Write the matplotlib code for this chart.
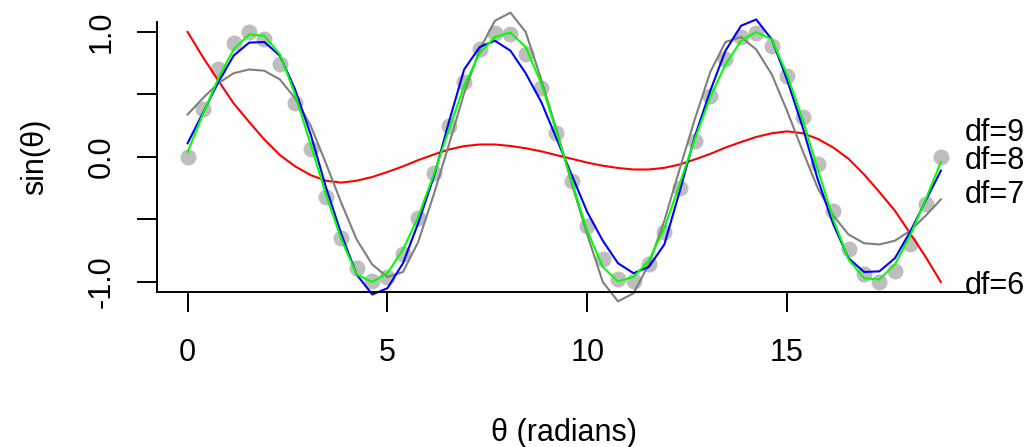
import matplotlib
matplotlib.use("Agg")
import matplotlib.pyplot as plt

plt.rcParams['font.family'] = ['Liberation Sans', 'DejaVu Sans']

# sample points (theta in radians) and sin values
theta = [0.00, 0.38, 0.77, 1.15, 1.54, 1.92, 2.31, 2.69, 3.08, 3.46,
         3.85, 4.23, 4.62, 5.00, 5.39, 5.77, 6.16, 6.54, 6.92, 7.31,
         7.69, 8.08, 8.46, 8.85, 9.23, 9.62, 10.00, 10.39, 10.77, 11.16,
         11.54, 11.93, 12.31, 12.69, 13.08, 13.46, 13.85, 14.23, 14.62, 15.00,
         15.39, 15.77, 16.16, 16.54, 16.93, 17.31, 17.70, 18.08, 18.47, 18.85]
sin_vals = [0.00, 0.38, 0.70, 0.91, 1.00, 0.94, 0.74, 0.43, 0.06, -0.32,
            -0.65, -0.89, -0.99, -0.96, -0.78, -0.49, -0.13, 0.25, 0.60, 0.86,
            0.99, 0.98, 0.82, 0.55, 0.19, -0.19, -0.55, -0.82, -0.98, -0.99,
            -0.86, -0.60, -0.25, 0.13, 0.49, 0.78, 0.96, 0.99, 0.89, 0.65,
            0.32, -0.06, -0.43, -0.74, -0.94, -1.00, -0.91, -0.70, -0.38, 0.00]

# fitted curves, one per df
fit_df6 = [1.00, 0.80, 0.61, 0.43, 0.28, 0.14, 0.015, -0.075, -0.145, -0.19,
           -0.205, -0.19, -0.16, -0.12, -0.075, -0.025, 0.02, 0.06, 0.087, 0.10,
           0.10, 0.088, 0.07, 0.045, 0.015, -0.015, -0.045, -0.07, -0.088, -0.10,
           -0.10, -0.087, -0.06, -0.02, 0.025, 0.075, 0.12, 0.16, 0.19, 0.205,
           0.19, 0.145, 0.075, -0.015, -0.14, -0.28, -0.43, -0.61, -0.80, -1.00]
fit_df7 = [0.34, 0.47, 0.59, 0.67, 0.70, 0.69, 0.62, 0.47, 0.25, -0.05,
           -0.37, -0.66, -0.86, -0.96, -0.92, -0.68, -0.30, 0.10, 0.51, 0.86,
           1.09, 1.155, 1.00, 0.62, 0.22, -0.22, -0.62, -1.00, -1.155, -1.09,
           -0.86, -0.51, -0.10, 0.30, 0.68, 0.92, 0.96, 0.86, 0.66, 0.37,
           0.05, -0.25, -0.47, -0.62, -0.69, -0.70, -0.67, -0.59, -0.47, -0.34]
fit_df8 = [0.11, 0.35, 0.60, 0.81, 0.915, 0.92, 0.81, 0.54, 0.18, -0.24,
           -0.62, -0.94, -1.10, -1.05, -0.85, -0.53, -0.16, 0.28, 0.70, 0.88,
           0.93, 0.85, 0.67, 0.44, 0.15, -0.15, -0.44, -0.67, -0.85, -0.93,
           -0.88, -0.70, -0.28, 0.16, 0.53, 0.85, 1.05, 1.10, 0.94, 0.62,
           0.24, -0.18, -0.54, -0.81, -0.92, -0.915, -0.81, -0.60, -0.35, -0.11]
fit_df9 = [0.04, 0.34, 0.63, 0.86, 0.98, 0.97, 0.82, 0.50, 0.10, -0.30,
           -0.66, -0.94, -1.00, -0.93, -0.74, -0.48, -0.14, 0.22, 0.57, 0.83,
           0.96, 0.995, 0.88, 0.59, 0.20, -0.20, -0.59, -0.88, -0.995, -0.96,
           -0.83, -0.57, -0.22, 0.14, 0.48, 0.74, 0.93, 1.00, 0.94, 0.66,
           0.30, -0.10, -0.50, -0.82, -0.97, -0.98, -0.86, -0.63, -0.34, -0.04]

fits = [fit_df6, fit_df7, fit_df8, fit_df9]
fit_colors = ["#FF0000", "#7F7F7F", "#0000FF", "#00FF00"]

# labels on the right side
df_labels = ["df=9", "df=8", "df=7", "df=6"]
df_label_y = [0.13, -0.10, -0.37, -1.10]

x_ticks = [0, 5, 10, 15]
y_ticks = [-1.0, -0.5, 0.0, 0.5, 1.0]
y_tick_labels = ["-1.0", "", "0.0", "", "1.0"]

FS = 22

fig = plt.figure(figsize=(10.3, 4.47), dpi=100)
ax = fig.add_axes([0.1529, 0.3468, 0.7898, 0.6040])

ax.plot(theta, sin_vals, "o", color="#BEBEBE", markersize=11.5,
        markeredgewidth=0, clip_on=False)
# R does not clip the fits to the box here
for fit, col in zip(fits, fit_colors):
    ax.plot(theta, fit, color=col, linewidth=1.5, clip_on=False)

for lab, yy in zip(df_labels, df_label_y):
    ax.text(19.45, yy, lab, fontsize=FS, ha="left", va="baseline", clip_on=False)

ax.set_xlim(-0.754, 19.604)
ax.set_ylim(-1.08, 1.08)

# only left and bottom box lines
ax.spines["top"].set_visible(False)
ax.spines["right"].set_visible(False)
ax.spines["left"].set_linewidth(1.4)
ax.spines["bottom"].set_linewidth(1.4)

ax.set_xticks(x_ticks)
ax.set_xticklabels([str(t) for t in x_ticks])
ax.set_yticks(y_ticks)
ax.set_yticklabels(y_tick_labels, rotation=90, va="center")
ax.tick_params(axis="both", length=14.4, width=1.4, labelsize=FS)
ax.tick_params(axis="x", pad=19)
ax.tick_params(axis="y", pad=15)

ax.set_xlabel("θ (radians)", fontsize=FS, labelpad=36)
ax.set_ylabel("sin(θ)", fontsize=FS, labelpad=26)

fig.savefig("out.png", dpi=100)
